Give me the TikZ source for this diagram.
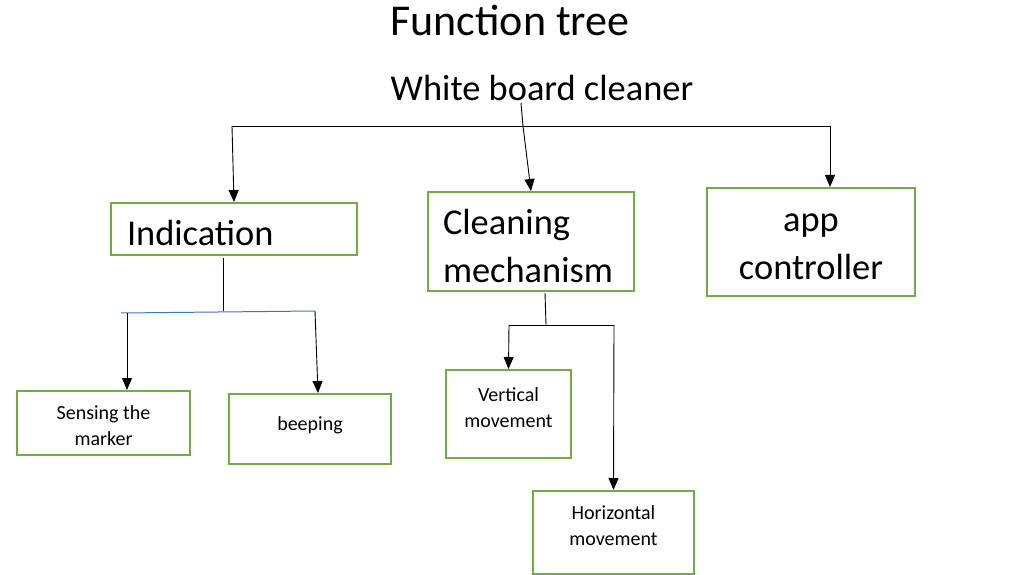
\documentclass[tikz,border=0pt]{standalone}
\usepackage{fontspec}
\setmainfont{Carlito}
\usepackage{tikz}
\usetikzlibrary{arrows.meta}
\usepackage{xcolor}
\definecolor{boxgreen}{RGB}{112,173,71}
\definecolor{lineblue}{RGB}{68,114,196}
\newcommand{\topgap}[1]{\rule{0pt}{#1}}

\begin{document}
\begin{tikzpicture}[x=1pt,y=-1pt,
  box/.style={draw=boxgreen, line width=2pt, inner sep=0pt},
  bigtxt/.style={font=\fontsize{36.4}{48}\selectfont},
  smalltxt/.style={font=\fontsize{20}{26}\selectfont, align=center},
  arr/.style={-{Triangle[width=10pt,length=12pt]}, line width=0.9pt},
  link/.style={line width=0.9pt}]
\useasboundingbox (0,0) rectangle (1023,575);

% Headings
\node[font=\fontsize{44}{50}\selectfont] (title) at (510,20) {Function tree};
\node[bigtxt] (wbc) at (542,88) {White board cleaner};

% Main functions
\node[box, bigtxt, minimum width=246, minimum height=52, text width=214, align=left, text height=36, text depth=4] (ind) at (234,229) {Indication};
\node[box, bigtxt, minimum width=206, minimum height=99, text width=176, align=left] (clean) at (531,241.5) {\topgap{34pt}Cleaning\\mechanism};
\node[box, bigtxt, minimum width=208, minimum height=108, align=center] (app) at (811,242) {\topgap{27pt}app\\controller};

% Sub functions
\node[box, smalltxt, minimum width=173, minimum height=64] (sense) at (103.5,423) {\topgap{20pt}Sensing the\\marker};
\node[box, smalltxt, minimum width=162, minimum height=70, text height=15, text depth=12] (beep) at (310,429) {beeping};
\node[box, smalltxt, minimum width=125, minimum height=88, text depth=13] (vert) at (508.5,414) {Vertical\\movement};
\node[box, smalltxt, minimum width=161, minimum height=83, text depth=14] (horiz) at (613.5,532.5) {Horizontal\\movement};

% Junction points
\coordinate (top) at (521,103);
\coordinate (j0) at (523,126);
\coordinate (jl) at (232,126);
\coordinate (jr) at (830,126);
\coordinate (indstem) at (223,258);
\coordinate (ind0) at (223,311);
\coordinate (indl) at (121,313);
\coordinate (indsl) at (127,313);
\coordinate (indr) at (315,311);
\coordinate (cl0) at (545,293);
\coordinate (cl1) at (546,325);
\coordinate (cll) at (509,325);
\coordinate (clr) at (614,325);

% Top level tree
\draw[link] (top) -- (j0);
\draw[link] (jl) -- (jr);
\draw[arr] (jl) -- (ind.north);
\draw[arr] (j0) -- (clean.north);
\draw[arr] (jr) -- (jr |- app.north);

% Indication branch
\draw[link] (indstem) -- (ind0);
\draw[lineblue, line width=1pt] (indl) -- (indr);
\draw[arr] (indsl) -- (indsl |- sense.north);
\draw[arr] (indr) -- ([xshift=8]beep.north);

% Cleaning branch
\draw[link] (cl0) -- (cl1);
\draw[link] (cll) -- (clr);
\draw[arr] (cll) -- (vert.north);
\draw[arr] (clr) -- (horiz.north);
\end{tikzpicture}
\end{document}
